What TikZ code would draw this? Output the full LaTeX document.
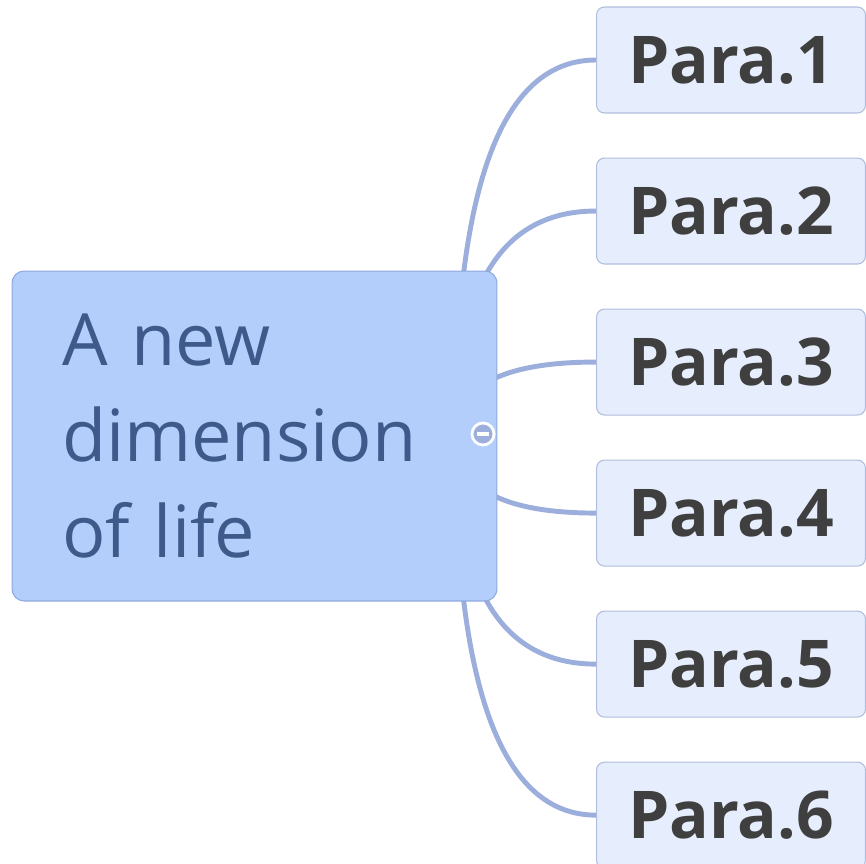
\documentclass[tikz,border=0pt]{standalone}
\usepackage{fontspec}
\setmainfont{Open Sans}
\usepackage{tikz}
\usetikzlibrary{calc,positioning,backgrounds}
\definecolor{mainfill}{RGB}{179, 206, 250}
\definecolor{maindraw}{RGB}{143, 168, 224}
\definecolor{maintext}{RGB}{61, 90, 138}
\definecolor{parafill}{RGB}{230, 237, 252}
\definecolor{paradraw}{RGB}{176, 190, 221}
\definecolor{paratext}{RGB}{63, 63, 63}
\definecolor{branchcol}{RGB}{155, 174, 220}
\tikzset{>=latex}
\tikzset{
  topic/.style = {draw = maindraw, fill = mainfill, line width = 0.6pt, rounded corners = 0.24cm,
    minimum height = 6.6cm, text width = 7.7cm, inner xsep = 1cm, inner ysep = 0pt,
    align = left, text = maintext, font = \fontsize{41}{54.6}\selectfont},
  para/.style = {draw = paradraw, fill = parafill, line width = 0.6pt, rounded corners = 0.16cm,
    minimum width = 5.38cm, minimum height = 2.12cm, inner sep = 0pt,
    text = paratext, font = \fontsize{37.5}{44}\selectfont\bfseries},
  branch/.style = {draw = branchcol, line width = 2.8pt}
}

\begin{document}
\begin{tikzpicture}[x = 0.02cm, y = -0.02cm]
\useasboundingbox (0, 0) rectangle (866, 863);
\node[topic] (main) at (254.5, 436) {A new\\dimension\\of life};

\node[para] (p1) at (731, 60) {Para.1};
\node[para, below = 0.88cm of p1] (p2) {Para.2};
\node[para, below = 0.88cm of p2] (p3) {Para.3};
\node[para, below = 0.88cm of p3] (p4) {Para.4};
\node[para, below = 0.88cm of p4] (p5) {Para.5};
\node[para, below = 0.88cm of p5] (p6) {Para.6};

\coordinate (o) at (455, 436);
\begin{scope}[on background layer]
\foreach \i in {1,...,6}
  \draw[branch] (o) .. controls ($(o)!2/3!(o |- p\i.west)$) and ($(p\i.west)!2/3!(o |- p\i.west)$) .. (p\i.west);
\end{scope}

% fold marker
\node[circle, draw = white, line width = 1.6pt, fill = branchcol, minimum size = 0.44cm, inner sep = 0pt] (fold) at (483, 434) {};
\draw[white, line width = 1.8pt] ($(fold.west)+(6,0)$) -- ($(fold.east)+(-6,0)$);
\end{tikzpicture}
\end{document}
